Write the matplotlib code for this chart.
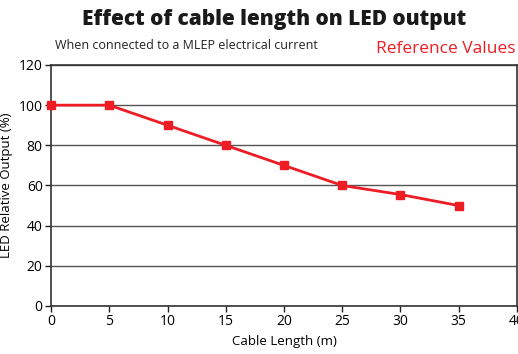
import matplotlib.pyplot as plt

cable_length = [0, 5, 10, 15, 20, 25, 30, 35]
led_output = [100, 100, 90, 80, 70, 60, 55.5, 50]
x_ticks = [0, 5, 10, 15, 20, 25, 30, 35, 40]
y_ticks = [0, 20, 40, 60, 80, 100, 120]

plt.rcParams['font.family'] = ['Open Sans', 'DejaVu Sans']

fig = plt.figure(figsize=(5.18, 3.54), dpi=100)
ax = fig.add_axes([0.0985, 0.1356, 0.8995, 0.6808])

ax.plot(cable_length, led_output, color='#ee1c25', linewidth=2,
        marker='s', markersize=6, clip_on=False, zorder=3)

ax.set_xlim(0, 40)
ax.set_ylim(0, 120)
ax.set_xticks(x_ticks)
ax.set_yticks(y_ticks)
ax.tick_params(labelsize=10, length=4, width=1, color='#222222', pad=2)
ax.yaxis.grid(True, color='#555555', linewidth=1)
ax.set_axisbelow(True)
for side in ['left', 'bottom', 'right', 'top']:
    ax.spines[side].set_color('#333333')
    ax.spines[side].set_linewidth(1.2)

ax.set_xlabel('Cable Length (m)', fontsize=9.5, labelpad=4)
ax.set_ylabel('LED Relative Output (%)', fontsize=9.5, labelpad=4)

fig.text(0.53, 0.945, 'Effect of cable length on LED output', ha='center',
         va='center', fontsize=15, fontweight='heavy', color='#1a1a1a')
fig.text(0.106, 0.872, 'When connected to a MLEP electrical current',
         ha='left', va='center', fontsize=9, color='#222222')
fig.text(0.995, 0.862, 'Reference Values', ha='right', va='center',
         fontsize=12.5, color='#ee1c25')

fig.savefig('out.png', dpi=100)
